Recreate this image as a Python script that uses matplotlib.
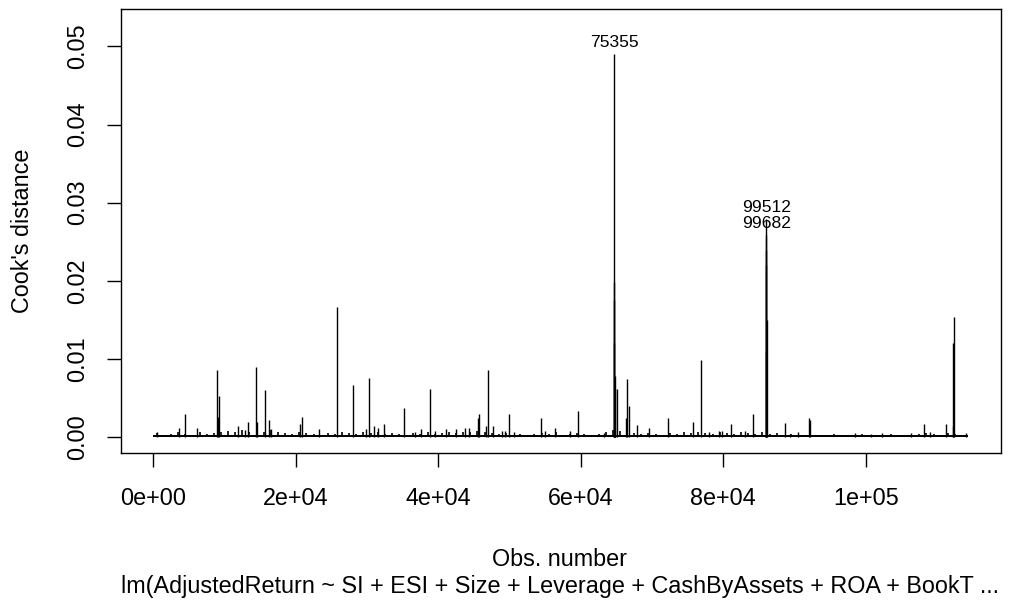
import matplotlib
matplotlib.use("Agg")
import matplotlib.pyplot as plt
import numpy as np

plt.rcParams['font.family'] = ['Liberation Sans', 'DejaVu Sans']

# number of observations in the model
n_obs = 114400

# background level of Cook's distance, one value per 1000 observations
bg_obs = np.arange(500, 114000, 1000)
bg_cook = [
    0.0005, 0.0003, 0.0004, 0.0006, 0.0004, 0.0003, 0.0007, 0.0004, 0.0005,
    0.0006, 0.0008, 0.0007, 0.0009, 0.0006, 0.0008, 0.0007, 0.0009, 0.0006, 0.0005,
    0.0004, 0.0006, 0.0005, 0.0004, 0.0003, 0.0005, 0.0004, 0.0006, 0.0005, 0.0004,
    0.0006, 0.0005, 0.0007, 0.0004, 0.0005, 0.0004, 0.0003, 0.0005, 0.0004, 0.0006,
    0.0004, 0.0005, 0.0006, 0.0005, 0.0007, 0.0006, 0.0008, 0.0006, 0.0005, 0.0004,
    0.0005, 0.0003, 0.0004, 0.0003, 0.0004, 0.0005, 0.0004, 0.0006, 0.0003, 0.0004,
    0.0005, 0.0004, 0.0003, 0.0004, 0.0006, 0.0009, 0.0008, 0.0007, 0.0005, 0.0004,
    0.0005, 0.0004, 0.0003, 0.0005, 0.0004, 0.0006, 0.0005, 0.0007, 0.0005, 0.0004,
    0.0006, 0.0005, 0.0004, 0.0006, 0.0005, 0.0004, 0.0007, 0.0004, 0.0005, 0.0003,
    0.0004, 0.0003, 0.0002, 0.0003, 0.0003, 0.0002, 0.0004, 0.0003, 0.0002, 0.0003,
    0.0004, 0.0003, 0.0002, 0.0003, 0.0004, 0.0003, 0.0002, 0.0003, 0.0004, 0.0005,
    0.0004, 0.0003, 0.0005, 0.0004, 0.0003,
]
floor_cook = 0.0003

# smaller spikes
small_obs = [560, 3650, 4494, 6180, 9130, 11940, 12900, 13340, 14600, 16210, 16490,
             20600, 20840, 23270, 29830, 31040, 31520, 32400, 35210, 36800,
             37560, 39560, 41110, 42510, 43780, 44340, 45560, 45700, 46730, 47670,
             48930, 49400, 49960, 50560, 54410, 55010, 56320, 58430, 59550, 63300,
             65080, 66290, 66710, 67890, 69520, 72250, 75800,
             77950, 79350, 79870, 81140, 83000, 84180, 88720, 89420, 90550,
             92050, 92190, 98550, 100660, 102300, 106280, 108150, 108950,
             111290, 112220, 114100]
small_cook = [0.0006, 0.0011, 0.0030, 0.0012, 0.0026, 0.0014, 0.0009, 0.0019, 0.0019, 0.0022, 0.0010,
              0.0016, 0.0025, 0.0010, 0.0010, 0.0014, 0.0012, 0.0016, 0.0037, 0.0006,
              0.0010, 0.0008, 0.0010, 0.0010, 0.0011, 0.0011, 0.0024, 0.0030, 0.0014, 0.0014,
              0.0008, 0.0008, 0.0030, 0.0006, 0.0024, 0.0008, 0.0012, 0.0008, 0.0033, 0.0005,
              0.0061, 0.0024, 0.0040, 0.0015, 0.0011, 0.0024, 0.0019,
              0.0006, 0.0008, 0.0008, 0.0016, 0.0008, 0.0030, 0.0018, 0.0004, 0.0006,
              0.0024, 0.0022, 0.0005, 0.0004, 0.0005, 0.0005, 0.0016, 0.0007,
              0.0016, 0.0014, 0.0005]

# large spikes
big_obs = [8904, 9270, 14424, 15646, 25800, 28048, 30337, 38862, 46910,
           64600, 64640, 64660, 64740, 64780, 66433, 76826,
           85960, 85990, 86030, 86070, 112300, 112360]
big_cook = [0.0086, 0.0052, 0.0090, 0.0060, 0.0166, 0.0067, 0.0076, 0.0062, 0.0086,
            0.0120, 0.0175, 0.0198, 0.0078, 0.0061, 0.0074, 0.0098,
            0.0110, 0.0240, 0.0220, 0.0150, 0.0120, 0.0153]

# labelled observations (row names)
label_ids = ["75355", "99512", "99682"]
label_obs = [64705, 86011, 86040]
label_cook = [0.0490, 0.0279, 0.0259]

fig = plt.figure(figsize=(10.2, 6.03), dpi=100)
ax = fig.add_axes([0.1183, 0.248, 0.8631, 0.737])

ax.fill_between([1, n_obs], 0, floor_cook, color='black', lw=0)
ax.vlines(bg_obs, 0, bg_cook, color='black', lw=1.2)
ax.vlines(small_obs, 0, small_cook, color='black', lw=1.0)
ax.vlines(big_obs, 0, big_cook, color='black', lw=1.0)
ax.vlines(label_obs, 0, label_cook, color='black', lw=1.0)

for lab, xo, yo in zip(label_ids, label_obs, label_cook):
    ax.annotate(lab, (xo, yo), xytext=(0, 3), textcoords='offset points',
                ha='center', va='bottom', fontsize=12.6)

ymax = max(label_cook) * 1.075
ax.set_xlim(-0.04 * n_obs, 1.04 * n_obs)
ax.set_ylim(-0.04 * ymax, 1.04 * ymax)

xt = [0, 20000, 40000, 60000, 80000, 100000]
ax.set_xticks(xt)
ax.set_xticklabels(["0e+00", "2e+04", "4e+04", "6e+04", "8e+04", "1e+05"])
yt = [0.0, 0.01, 0.02, 0.03, 0.04, 0.05]
ax.set_yticks(yt)
ax.set_yticklabels(["%.2f" % v for v in yt])

ax.tick_params(axis='both', direction='out', length=10, width=1.0, labelsize=16.8)
ax.tick_params(axis='x', pad=14)
ax.tick_params(axis='y', pad=13)
for tl in ax.get_yticklabels():
    tl.set_rotation(90)
    tl.set_va('center')
for s in ax.spines.values():
    s.set_linewidth(1.0)

fig.text(22.5 / 1020, 1 - 231 / 603, "Cook's distance", rotation=90,
         ha='center', va='center', fontsize=16.8)
fig.text(560 / 1020, 1 - 566 / 603, "Obs. number", ha='center', va='baseline', fontsize=16.8)
fig.text(560 / 1020, 1 - 593 / 603,
         "lm(AdjustedReturn ~ SI + ESI + Size + Leverage + CashByAssets + ROA + BookT ...",
         ha='center', va='baseline', fontsize=16.8)

fig.savefig("out.png", dpi=100)
